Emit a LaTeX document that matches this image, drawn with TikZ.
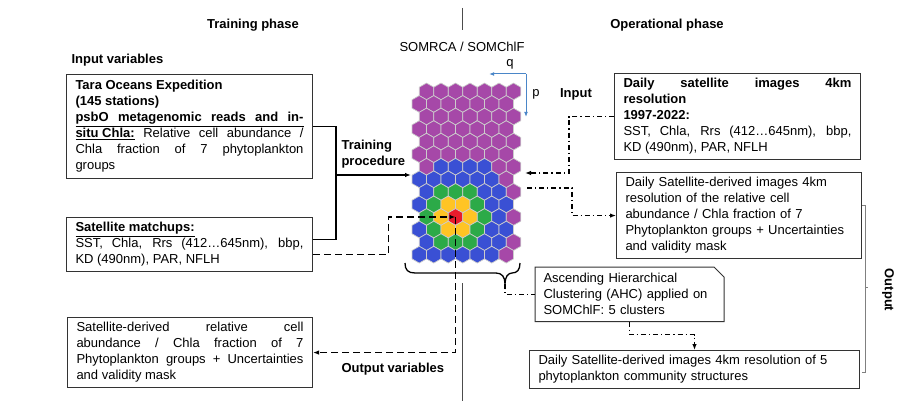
\documentclass[tikz,border=0pt]{standalone}
\usepackage{fontspec}
\setmainfont{Liberation Sans}
\usepackage{tikz}
\usetikzlibrary{arrows.meta,positioning,calc}
\definecolor{somP}{RGB}{166,72,168}
\definecolor{somB}{RGB}{58,80,212}
\definecolor{somG}{RGB}{44,170,72}
\definecolor{somY}{RGB}{255,196,36}
\definecolor{somR}{RGB}{232,28,44}
\definecolor{qblue}{RGB}{74,134,200}
\newcommand{\bxfont}{\fontsize{13}{16}\selectfont\tolerance=10000\hyphenpenalty=10000}

\begin{document}
\begin{tikzpicture}[x=1pt,y=-1pt,
	bx/.style={draw=black!80,line width=1pt,anchor=north west,inner xsep=9pt,inner ysep=5pt,align=justify,font=\bxfont},
	lbl/.style={font=\bxfont\bfseries},
	hexc/.style={draw=white!80!black,line width=0.7pt},
	conn/.style={line width=1.3pt},
	dsh/.style={line width=1.3pt,dash pattern=on 7pt off 4pt},
	ddsh/.style={line width=1.1pt,dash pattern=on 5pt off 3pt on 1.2pt off 3pt},
	qarr/.style={qblue,line width=1pt}]
\useasboundingbox (0,0) rectangle (902,401);
\node[lbl] (trph) at (253,25) {Training phase};
\node[lbl] (opph) at (667,25) {Operational phase};
\node[lbl,anchor=west] (inv) at (68,60) {Input variables};
\node[font=\bxfont] (som) at (462,47) {SOMRCA / SOMChlF};
\node[lbl] (inp) at (576,94) {Input};
\node[lbl,anchor=west,align=left] (trp) at (338,154) {Training\\procedure};
\node[lbl,anchor=west] (ovl) at (338,369) {Output variables};
\node[lbl,rotate=-90] (outl) at (888,290) {Output};
\draw[black!70,line width=0.6pt] (462,8) -- (462,30);
\draw[black!70,line width=0.6pt] (462,283) -- (462,401);
\node[bx,text width=228pt,inner ysep=6pt] (tara) at (66,74) {\textbf{Tara Oceans Expedition}\\
	\textbf{(145 stations)}\\
	\underline{\makebox[228pt][s]{\textbf{psbO metagenomic reads and in-}}}\\
	\underline{\textbf{situ Chla:}} Relative cell abundance /\linebreak
	Chla fraction of 7 phytoplankton\linebreak
	groups};
\node[bx,text width=228pt] (sat) at (66,217) {\underline{\textbf{Satellite matchups:}}\\
	SST, Chla, Rrs (412…645nm), bbp,\linebreak
	KD (490nm), PAR, NFLH};
\node[bx,text width=227pt] (outv) at (67,317) {Satellite-derived relative cell\linebreak
	abundance / Chla fraction of 7\linebreak
	Phytoplankton groups + Uncertainties\linebreak
	and validity mask};
\node[bx,text width=228pt] (daily) at (614,73) {\textbf{Daily satellite images 4km}\linebreak
	\textbf{resolution}\\
	\textbf{1997-2022:}\\
	SST, Chla, Rrs (412…645nm), bbp,\linebreak
	KD (490nm), PAR, NFLH};
\node[bx,text width=227pt,align=left] (rel) at (616,172) {Daily Satellite-derived images 4km\\
	resolution of the relative cell\\
	abundance / Chla fraction of 7\\
	Phytoplankton groups + Uncertainties\\
	and validity mask};
\node[bx,draw=none,text width=172pt,align=left,inner xsep=8pt,inner ysep=6pt] (ahc) at (535,267) {Ascending Hierarchical\\
	Clustering (AHC) applied on\\
	SOMChlF: 5 clusters};
\draw[draw=black!80,line width=1pt] (ahc.south west) -- (ahc.north west) -- ([xshift=-10pt]ahc.north east) -- ([yshift=-10pt]ahc.north east) -- (ahc.south east) -- cycle;
\node[bx,text width=312pt,align=left] (dcs) at (529,350) {Daily Satellite-derived images 4km resolution of 5\\
	phytoplankton community structures};
\foreach \rw in {0,...,13}{
	\foreach \cl in {0,...,6}{
		\pgfmathsetmacro\hx{419.25+14.5*\cl+7.25*(1-mod(\rw,2))}
		\pgfmathsetmacro\hy{91.4+12.56*\rw}
		\pgfmathtruncatemacro\dq{\cl-(\rw+mod(\rw,2))/2+3}
		\pgfmathtruncatemacro\dr{\rw-10}
		\pgfmathtruncatemacro\dd{(abs(\dq)+abs(\dr)+abs(\dq+\dr))/2}
		\pgfmathtruncatemacro\pp{(\rw<6)||(\rw==6&&(\cl==0||\cl>4))||(\rw>6&&\cl==6&&\rw!=9&&\rw!=11)}
		\ifnum\pp=1 \def\hc{somP}\else\ifcase\dd \def\hc{somR}\or\def\hc{somY}\or\def\hc{somG}\else\def\hc{somB}\fi\fi
		\filldraw[hexc,fill=\hc] (\hx,\hy) +(90:8.37) -- +(30:8.37) -- +(-30:8.37) -- +(-90:8.37) -- +(-150:8.37) -- +(150:8.37) -- cycle;
		\coordinate (h\rw-\cl) at (\hx,\hy);
	}
}
\coordinate (qp) at (526,74);
\draw[qarr,-{Latex[length=5pt]}] (qp) -- ++(-37,0);
\draw[qarr,-{Latex[length=5pt]}] (qp) -- ++(0,43);
\node[font=\bxfont] (q) at (510,64) {q};
\node[font=\bxfont] (p) at (536,94) {p};
\coordinate (trn) at (336,175);
\coordinate (gw) at (411,175);
\draw[conn] (tara.east) -| (trn) |- ([yshift=5pt]sat.east);
\draw[conn,-{Latex[length=6pt]}] (trn) -- (gw);
\draw[dsh,-{Latex[length=6pt]}] ([yshift=-10pt]sat.east) -| ([xshift=-67pt]h10-2) -- (h10-2);
\draw[dsh,-{Latex[length=6pt]}] (h10-2) |- (outv.east);
\coordinate (inpt) at (525,173);
\draw[ddsh,-{Latex[length=6pt]}] (daily.west) -- ++(-45,0) |- (inpt);
\coordinate (outpt) at (527,188);
\draw[ddsh,-{Latex[length=6pt]}] (outpt) -- ++(45,0) |- (rel.west);
\coordinate (brt) at (505,284);
\draw[conn] (405,263) .. controls (405,270) and (408,273) .. (415,273) -- (496,273) .. controls (502,273) and (505,277) .. (brt) .. controls (505,277) and (508,273) .. (512,273) .. controls (517,273) and (520,270) .. (520,263);
\draw[ddsh] (brt) |- (ahc.west);
\draw[ddsh,-{Latex[length=6pt]}] (ahc.south) -- ++(0,13) -| (dcs.north);
\draw[black!50,line width=0.6pt] (862,205) -- (865,205) -- (865,372) -- (862,372);
\draw[black!50,line width=0.6pt] (865,287) -- (868,287);
\end{tikzpicture}
\end{document}
